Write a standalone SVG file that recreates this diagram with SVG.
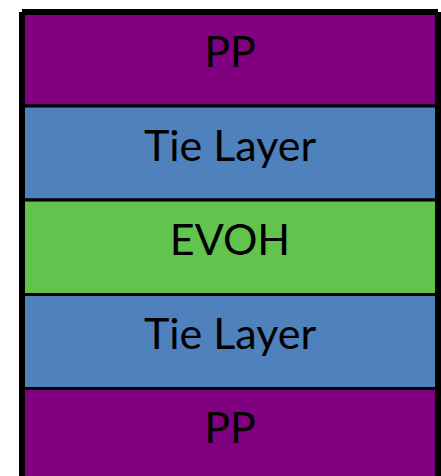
<svg xmlns="http://www.w3.org/2000/svg" width="441" height="476" viewBox="0 0 441 476">
<style>
.layer{stroke:#000;stroke-width:3}
.pp{fill:#800080}
.tie{fill:#4F81BD}
.evoh{fill:#62C34D}
text{font-family:Lato,"Open Sans",sans-serif;font-size:43px;fill:#000;text-anchor:middle}
</style>
<rect x="19" y="12" width="422" height="464" fill="#000"/>
<rect x="22" y="9" width="416" height="6" fill="#000"/>
<g id="pp-top"><rect class="layer pp" x="23.5" y="13.5" width="413" height="92.5"/><text x="230" y="67">PP</text></g>
<g id="tie-top"><rect class="layer tie" x="23.5" y="106" width="413" height="94"/><text x="230" y="161">Tie Layer</text></g>
<g id="evoh"><rect class="layer evoh" x="23.5" y="200" width="413" height="94.5"/><text x="230" y="255">EVOH</text></g>
<g id="tie-bottom"><rect class="layer tie" x="23.5" y="294.5" width="413" height="94"/><text x="230" y="349">Tie Layer</text></g>
<g id="pp-bottom"><rect class="layer pp" x="23.5" y="388.5" width="413" height="90"/><text x="230" y="443">PP</text></g>
<g id="connectors"/>
</svg>
